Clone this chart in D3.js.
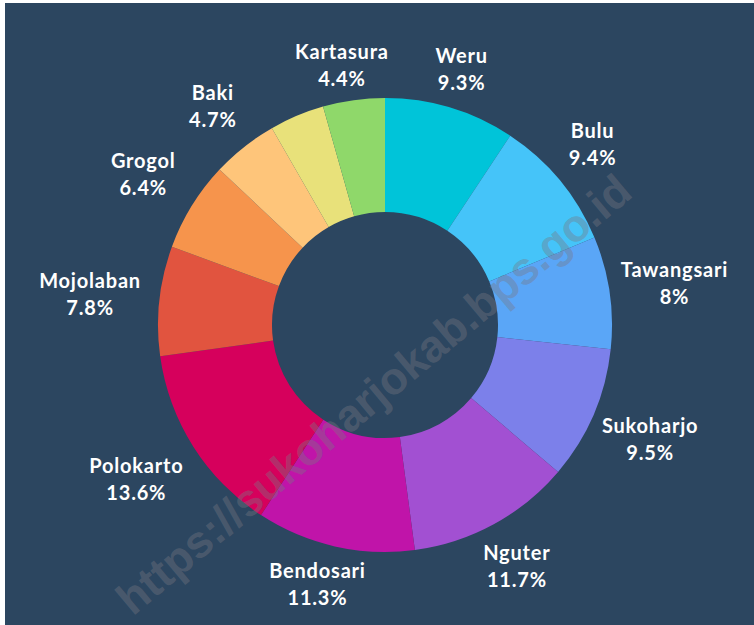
<!DOCTYPE html>
<html>
<head>
<meta charset="utf-8">
<script src="https://cdn.jsdelivr.net/npm/d3@7"></script>
<style>
  html, body { margin: 0; padding: 0; background: #ffffff; }
  svg { display: block; }
</style>
</head>
<body>
<svg id="chart" width="754" height="625"></svg>
<script>
// ---- data ----
const categories = ["Weru", "Bulu", "Tawangsari", "Sukoharjo", "Nguter", "Bendosari",
                    "Polokarto", "Mojolaban", "Grogol", "Baki", "", "Kartasura"];
const values = [9.3, 9.4, 8, 9.5, 11.7, 11.3, 13.6, 7.8, 6.4, 4.7, 3.9, 4.4];
const valueLabels = ["9.3%", "9.4%", "8%", "9.5%", "11.7%", "11.3%",
                     "13.6%", "7.8%", "6.4%", "4.7%", "", "4.4%"];
const colors = ["#00c4d9", "#45c4f9", "#5aa6f7", "#7c80ea", "#a250d2", "#c014a9",
                "#d6005c", "#e1543f", "#f6944c", "#fec57a", "#e8e17a", "#8fd86a"];
const watermark = "https://sukoharjokab.bps.go.id";

// ---- layout ----
const W = 754, H = 625;
const cx = 385, cy = 325;
const outerR = 227, innerR = 113;
const labelR = 258;

const svg = d3.select("#chart");
svg.append("rect").attr("x", 5).attr("y", 3).attr("width", W - 5).attr("height", H - 3)
  .attr("fill", "#2c4660");

const data = categories.map((c, i) => ({ name: c, value: values[i], label: valueLabels[i], color: colors[i] }));
const pie = d3.pie().sort(null).value(d => d.value);
const arc = d3.arc().innerRadius(innerR).outerRadius(outerR);
const arcs = pie(data);

const g = svg.append("g").attr("transform", `translate(${cx},${cy})`);
g.selectAll("path.slice").data(arcs).join("path")
  .attr("class", "slice")
  .attr("d", arc)
  .attr("fill", d => d.data.color);

// labels
const font = "Lato, 'Open Sans', sans-serif";
const lg = svg.append("g").attr("transform", `translate(${cx - 3},${cy})`);
const lab = lg.selectAll("g.lab").data(arcs.filter(d => d.data.name !== "")).join("g").attr("class", "lab");
lab.each(function(d) {
  const sel = d3.select(this);
  const t1 = sel.append("text").text(d.data.name)
    .attr("text-anchor", "middle").attr("fill", "#ffffff")
    .attr("font-family", font).attr("font-weight", 700).attr("font-size", 20)
    .attr("letter-spacing", 0.8)
    .attr("y", -6);
  sel.append("text").text(d.data.label)
    .attr("text-anchor", "middle").attr("fill", "#ffffff")
    .attr("font-family", font).attr("font-weight", 700).attr("font-size", 20)
    .attr("letter-spacing", 0.8)
    .attr("y", 21);
  const hw = t1.node().getComputedTextLength() / 2;
  const a = (d.startAngle + d.endAngle) / 2;
  const s = Math.sin(a), c = Math.cos(a);
  const x = labelR * s + s * hw * 0.7;
  const y = -labelR * c - c * Math.abs(s) * 34;
  sel.attr("transform", `translate(${x},${y})`);
});

// watermark
svg.append("text").text(watermark)
  .attr("transform", `translate(376,397) rotate(-40)`)
  .attr("text-anchor", "middle").attr("dominant-baseline", "middle")
  .attr("font-family", "'Liberation Sans', Arial, sans-serif").attr("font-weight", 700)
  .attr("font-size", 45)
  .attr("fill", "#787882").attr("fill-opacity", 0.4);
</script>
</body>
</html>
